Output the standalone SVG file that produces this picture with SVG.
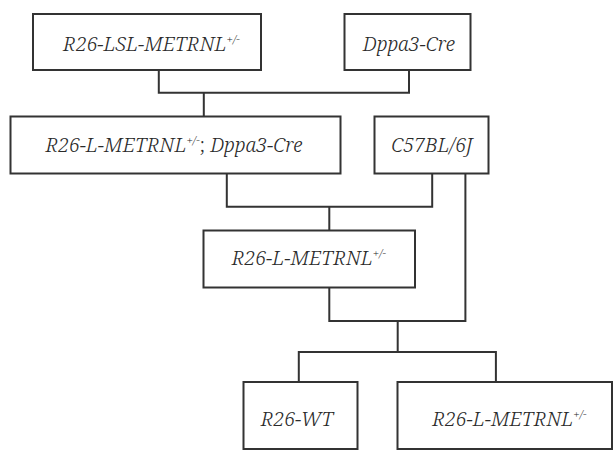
<svg xmlns="http://www.w3.org/2000/svg" width="613" height="450" viewBox="0 0 613 450">
<style>
.box{fill:#fff;stroke:#333;stroke-width:2}
.c{fill:none;stroke:#333;stroke-width:2}
text{font-family:"Noto Serif","Liberation Serif","DejaVu Serif",serif;font-style:italic;font-weight:300;font-size:20px;fill:#2a2a2a;text-anchor:middle}
.sup{font-size:11.5px}
.n{font-style:normal}
</style>
<rect width="613" height="450" fill="#fff"/>
<g id="connectors">
<path class="c" d="M158.8,70.3V92.7H409V70.3M203.8,92.7V116.3"/>
<path class="c" d="M226.8,173.3V206.7H432.2V173.3M329.3,206.7V230.3"/>
<path class="c" d="M329.3,287.3V321H465.4V173.3"/>
<path class="c" d="M397.7,321V352M298.8,382V352H495.9V382"/>
</g>
<g id="n1"><rect class="box" x="33" y="14" width="228" height="56"/><text x="151.5" y="51">R26-LSL-METRNL<tspan class="sup" dy="-8">+/-</tspan></text></g>
<g id="n2"><rect class="box" x="344.5" y="14" width="126" height="56"/><text x="409" y="51">Dppa3-Cre</text></g>
<g id="n3"><rect class="box" x="10.5" y="116.5" width="330" height="57"/><text x="174" y="152">R26-L-METRNL<tspan class="sup" dy="-8">+/-</tspan><tspan class="n" dy="8">; </tspan>Dppa3-Cre</text></g>
<g id="n4"><rect class="box" x="374.5" y="116.5" width="114" height="57"/><text x="432" y="152">C57BL/6J</text></g>
<g id="n5"><rect class="box" x="203.5" y="230.5" width="211.5" height="57"/><text x="309" y="264.5">R26-L-METRNL<tspan class="sup" dy="-8">+/-</tspan></text></g>
<g id="n6"><rect class="box" x="243.5" y="382" width="114" height="67"/><text x="297" y="426">R26-WT</text></g>
<g id="n7"><rect class="box" x="397.5" y="382" width="214.5" height="67"/><text x="509.5" y="426">R26-L-METRNL<tspan class="sup" dy="-8">+/-</tspan></text></g>
</svg>
